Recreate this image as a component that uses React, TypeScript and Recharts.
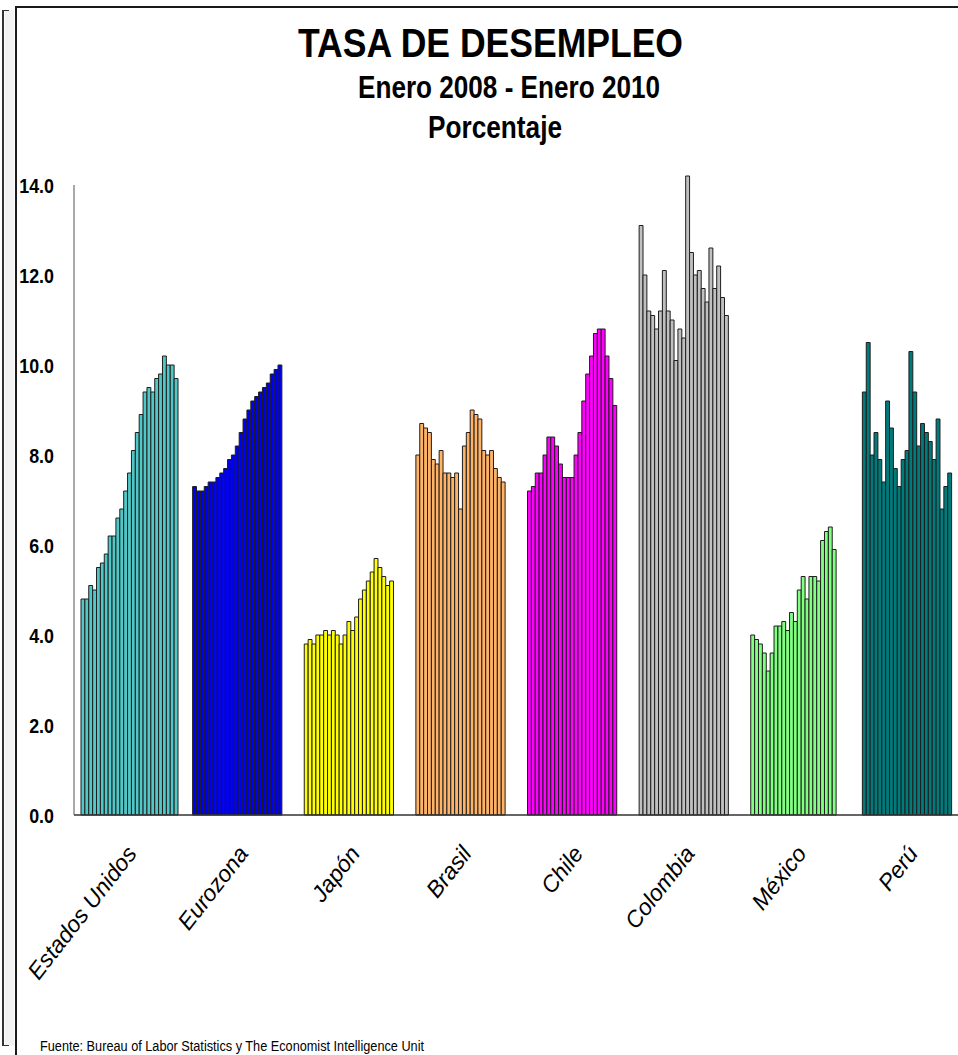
import React from 'react';
import { BarChart, Bar, XAxis, YAxis, Cell } from 'recharts';

const countries = ['Estados Unidos', 'Eurozona', 'Japón', 'Brasil', 'Chile', 'Colombia', 'México', 'Perú'];
const months = [
  'Ene-08', 'Feb-08', 'Mar-08', 'Abr-08', 'May-08', 'Jun-08', 'Jul-08', 'Ago-08', 'Sep-08', 'Oct-08', 'Nov-08', 'Dic-08',
  'Ene-09', 'Feb-09', 'Mar-09', 'Abr-09', 'May-09', 'Jun-09', 'Jul-09', 'Ago-09', 'Sep-09', 'Oct-09', 'Nov-09', 'Dic-09',
  'Ene-10',
];

const estadosUnidos = [4.8, 4.8, 5.1, 5.0, 5.5, 5.6, 5.8, 6.2, 6.2, 6.6, 6.8, 7.2, 7.6, 8.1, 8.5, 8.9, 9.4, 9.5, 9.4, 9.7, 9.8, 10.2, 10.0, 10.0, 9.7];
const eurozona = [7.3, 7.2, 7.2, 7.3, 7.4, 7.4, 7.5, 7.6, 7.7, 7.9, 8.0, 8.2, 8.5, 8.8, 9.0, 9.2, 9.3, 9.4, 9.5, 9.6, 9.8, 9.9, 10.0];
const japon = [3.8, 3.9, 3.8, 4.0, 4.0, 4.1, 4.0, 4.1, 4.0, 3.8, 4.0, 4.3, 4.1, 4.4, 4.8, 5.0, 5.2, 5.4, 5.7, 5.5, 5.3, 5.1, 5.2];
const brasil = [8.0, 8.7, 8.6, 8.5, 7.9, 7.8, 8.1, 7.6, 7.6, 7.5, 7.6, 6.8, 8.2, 8.5, 9.0, 8.9, 8.8, 8.1, 8.0, 8.1, 7.7, 7.5, 7.4];
const chile = [7.2, 7.3, 7.6, 7.6, 8.0, 8.4, 8.4, 8.2, 7.8, 7.5, 7.5, 7.5, 8.0, 8.5, 9.2, 9.8, 10.2, 10.7, 10.8, 10.8, 10.2, 9.7, 9.1];
const colombia = [13.1, 12.0, 11.2, 11.1, 10.8, 11.2, 12.1, 11.2, 11.0, 10.1, 10.8, 10.6, 14.2, 12.5, 12.0, 12.1, 11.7, 11.4, 12.6, 11.7, 12.2, 11.5, 11.1];
const mexico = [4.0, 3.9, 3.8, 3.6, 3.2, 3.6, 4.2, 4.2, 4.3, 4.1, 4.5, 4.3, 5.0, 5.3, 4.8, 5.3, 5.3, 5.2, 6.1, 6.3, 6.4, 5.9];
const peru = [9.4, 10.5, 8.0, 8.5, 7.9, 7.4, 9.2, 8.6, 7.7, 7.3, 7.9, 8.1, 10.3, 9.4, 8.2, 8.7, 8.5, 8.3, 7.9, 8.8, 6.8, 7.3, 7.6];

const countryColors = ['#50C8C8', '#0000F0', '#FFFF00', '#FFB366', '#FF00FF', '#C0C0C0', '#80FF80', '#007A7A'];
const yTicks = [0, 2, 4, 6, 8, 10, 12, 14];

const titleLine1 = 'TASA DE DESEMPLEO';
const titleLine2 = 'Enero 2008 - Enero 2010';
const titleLine3 = 'Porcentaje';
const sourceNote = 'Fuente: Bureau of Labor Statistics y The Economist Intelligence Unit';

const seriesByCountry = [estadosUnidos, eurozona, japon, brasil, chile, colombia, mexico, peru];

const data = countries.map((c, ci) => {
  const row: Record<string, any> = { country: c };
  months.forEach((m, mi) => {
    const v = seriesByCountry[ci][mi];
    row[m] = v === undefined ? null : v;
  });
  return row;
});

const FONT = "'Liberation Sans', Arial, Helvetica, sans-serif";

const YTick = (props: any) => {
  const { x, y, payload } = props;
  return (
    <text
      x={0}
      y={0}
      dy="0.36em"
      transform={`translate(${x},${y}) scale(0.85,1)`}
      textAnchor="end"
      fontFamily={FONT}
      fontWeight="bold"
      fontSize={21}
      fill="#000"
    >
      {Number(payload.value).toFixed(1)}
    </text>
  );
};

const XTick = (props: any) => {
  const { x, y, payload } = props;
  const ax = x + 8;
  const ay = y + 39;
  return (
    <text
      x={ax}
      y={ay}
      transform={`rotate(-52, ${ax}, ${ay})`}
      textAnchor="end"
      fontFamily={FONT}
      fontStyle="italic"
      fontSize={23}
      fill="#000"
    >
      {payload.value}
    </text>
  );
};

export default function App() {
  return (
    <div style={{ position: 'absolute', left: 0, top: 0, width: 958, height: 1055, overflow: 'hidden', background: '#fff' }}>
      <style>{`.recharts-bar-rectangles { clip-path: none !important; }`}</style>
      <div style={{ position: 'absolute', left: 5, top: 10, width: 9, height: 1035, background: '#f3f3f3' }} />
      <div style={{ position: 'absolute', left: 2, top: 10, width: 5, height: 1034, borderLeft: '2px solid #333', borderTop: '1px solid #333', borderBottom: '1px solid #333' }} />
      <div style={{ position: 'absolute', left: 15, top: 6, width: 1000, height: 1100, border: '2px solid #1a1a1a' }} />
      <div style={{ position: 'absolute', left: 0, top: 0 }}>
        <BarChart
          width={967}
          height={1055}
          data={data}
          margin={{ top: 185, right: 0, left: 16, bottom: 40 }}
          barSize={3.88}
          barGap={0}
        >
          <XAxis
            dataKey="country"
            type="category"
            interval={0}
            height={200}
            tickLine={false}
            tickSize={0}
            tickMargin={0}
            axisLine={{ stroke: '#333', strokeWidth: 1.5 }}
            tick={<XTick />}
          />
          <YAxis
            type="number"
            domain={[0, 14]}
            allowDataOverflow
            ticks={yTicks}
            width={58}
            tickLine={false}
            tickSize={0}
            tickMargin={20}
            axisLine={{ stroke: '#555', strokeWidth: 1 }}
            tick={<YTick />}
          />
          {months.map((m) => (
            <Bar key={m} dataKey={m} isAnimationActive={false} stroke="#1e1e1e" strokeWidth={1}>
              {countries.map((c, ci) => (
                <Cell key={c} fill={countryColors[ci]} />
              ))}
            </Bar>
          ))}
        </BarChart>
      </div>
      <svg width={958} height={1055} style={{ position: 'absolute', left: 0, top: 0, pointerEvents: 'none' }}>
        <text x={298} y={57} fontFamily={FONT} fontWeight="bold" fontSize={40} textLength={385} lengthAdjust="spacingAndGlyphs" fill="#000">
          {titleLine1}
        </text>
        <text x={358} y={98} fontFamily={FONT} fontWeight="bold" fontSize={32} textLength={302} lengthAdjust="spacingAndGlyphs" fill="#000">
          {titleLine2}
        </text>
        <text x={428} y={138} fontFamily={FONT} fontWeight="bold" fontSize={32} textLength={134} lengthAdjust="spacingAndGlyphs" fill="#000">
          {titleLine3}
        </text>
        <text x={40} y={1051} fontFamily={FONT} fontSize={14} textLength={384} lengthAdjust="spacingAndGlyphs" fill="#000">
          {sourceNote}
        </text>
      </svg>
    </div>
  );
}
